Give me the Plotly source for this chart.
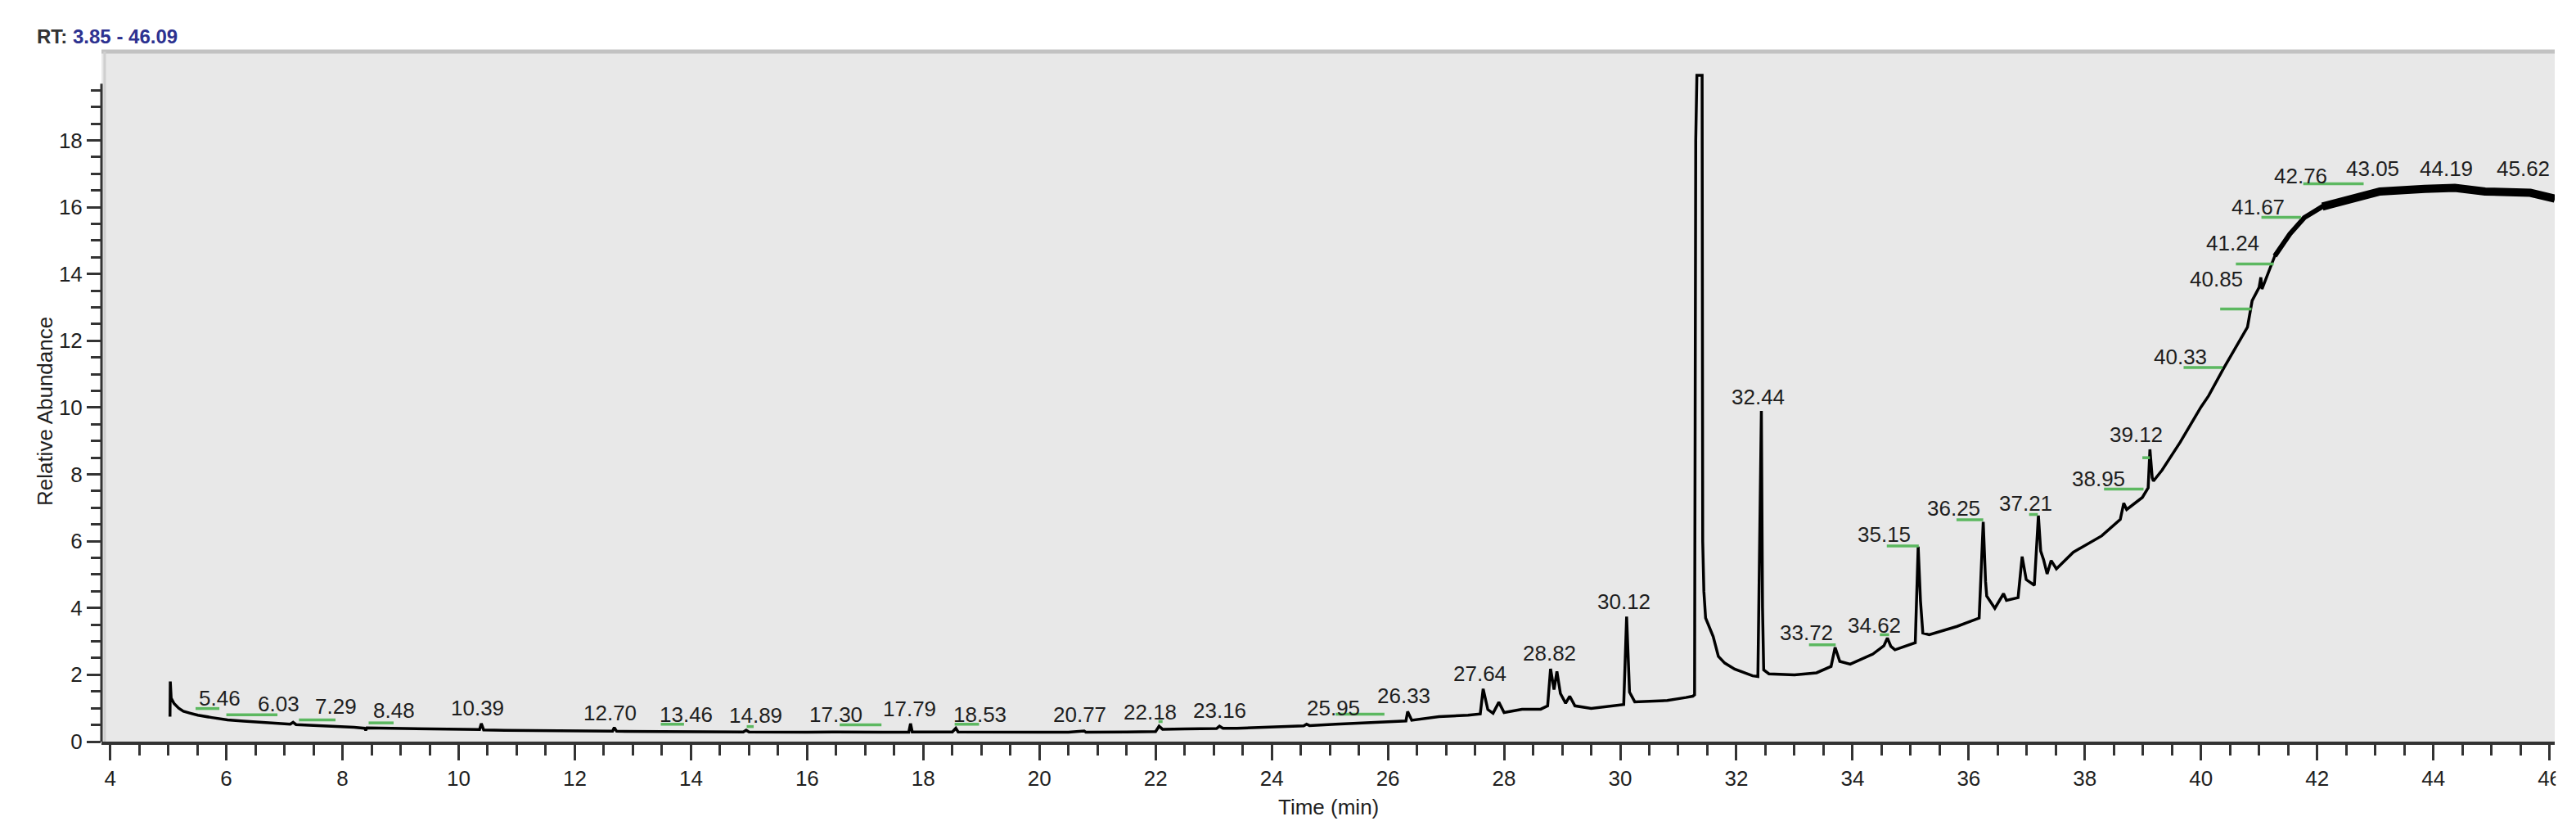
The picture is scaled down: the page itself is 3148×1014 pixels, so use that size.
import plotly.graph_objects as go

# Chromatogram trace (time in min, relative abundance)
time_min = [
    5.03, 5.035, 5.05, 5.10, 5.18, 5.26, 5.38, 5.51, 5.75, 6.02, 6.30, 6.65, 7.00, 7.10, 7.15,
    7.20, 7.50, 7.90, 8.20, 8.38, 8.40, 8.42, 8.80, 9.16, 9.60, 10.10, 10.36, 10.39, 10.43,
    10.80, 11.50, 12.10, 12.65, 12.68, 12.72, 13.50, 14.20, 14.90, 14.95, 15.00, 16.00, 16.50,
    17.30, 17.75, 17.78, 17.81, 18.50, 18.56, 18.60, 19.50, 20.50, 20.77, 20.80, 21.50, 22.00,
    22.06, 22.12, 22.50, 23.05, 23.10, 23.16, 23.40, 24.10, 24.55, 24.60, 24.65, 25.10, 25.50,
    26.06, 26.31, 26.34, 26.41, 26.88, 27.38, 27.59, 27.64, 27.72, 27.81, 27.91, 28.00, 28.31,
    28.63, 28.75, 28.80, 28.86, 28.91, 28.97, 29.06, 29.13, 29.22, 29.50, 29.88, 30.06, 30.11,
    30.16, 30.25, 30.81, 31.13, 31.25, 31.28, 31.30, 31.32, 31.41, 31.42, 31.44, 31.47, 31.56,
    31.60, 31.69, 31.80, 31.97, 32.13, 32.28, 32.37, 32.40, 32.43, 32.45, 32.47, 32.56, 33.00,
    33.38, 33.63, 33.70, 33.78, 33.96, 34.35, 34.54, 34.60, 34.66, 34.73, 35.08, 35.11, 35.13,
    35.17, 35.21, 35.32, 35.80, 36.18, 36.22, 36.25, 36.29, 36.31, 36.45, 36.55, 36.60, 36.65,
    36.85, 36.92, 36.99, 37.13, 37.17, 37.20, 37.24, 37.29, 37.35, 37.42, 37.51, 37.80, 38.29,
    38.61, 38.67, 38.72, 38.99, 39.09, 39.12, 39.16, 39.18, 39.33, 39.64, 40.00, 40.13, 40.39,
    40.80, 40.88, 41.00, 41.03, 41.05, 41.27, 41.53, 41.78, 42.09, 42.56, 43.08, 43.85, 44.37,
    44.89, 45.67, 46.09,
]
abundance = [
    0.75, 1.80, 1.30, 1.14, 1.00, 0.91, 0.85, 0.79, 0.72, 0.65, 0.61, 0.56, 0.53, 0.52, 0.58,
    0.51, 0.49, 0.46, 0.43, 0.40, 0.34, 0.41, 0.40, 0.39, 0.36, 0.35, 0.36, 0.54, 0.35,
    0.34, 0.33, 0.32, 0.31, 0.42, 0.31, 0.30, 0.30, 0.29, 0.34, 0.29, 0.28, 0.29,
    0.28, 0.28, 0.54, 0.29, 0.29, 0.40, 0.29, 0.28, 0.28, 0.32, 0.28, 0.29, 0.30,
    0.46, 0.37, 0.38, 0.39, 0.46, 0.40, 0.40, 0.43, 0.47, 0.52, 0.48, 0.52, 0.55,
    0.58, 0.62, 0.90, 0.64, 0.75, 0.79, 0.83, 1.58, 0.96, 0.85, 1.18, 0.87, 0.97,
    0.97, 1.07, 2.18, 1.56, 2.10, 1.44, 1.15, 1.36, 1.07, 0.99, 1.07, 1.11, 3.74,
    1.48, 1.19, 1.23, 1.32, 1.36, 1.40, 18.0, 19.95, 19.95, 6.0, 4.5, 3.7, 3.3,
    3.15, 2.55, 2.35, 2.17, 2.06, 1.97, 1.95, 6.0, 9.90, 4.0, 2.15, 2.03, 2.00,
    2.06, 2.25, 2.82, 2.40, 2.32, 2.62, 2.87, 3.10, 2.85, 2.75, 2.96, 4.5, 5.84,
    4.2, 3.25, 3.20, 3.45, 3.70, 5.5, 6.58, 4.8, 4.36, 3.99, 4.3, 4.43, 4.23,
    4.31, 5.54, 4.85, 4.68, 5.8, 6.77, 5.7, 5.44, 5.02, 5.42, 5.17, 5.67, 6.16,
    6.65, 7.14, 6.95, 7.31, 7.6, 8.75, 7.9, 7.8, 8.13, 8.96, 10.02, 10.35, 11.18,
    12.41, 13.20, 13.60, 13.90, 13.55, 14.54, 15.20, 15.69, 16.02, 16.26, 16.47, 16.55, 16.58,
    16.47, 16.43, 16.26,
]

# Peak labels as placed in the picture
label_text = [
    "5.46", "6.03", "7.29", "8.48", "10.39", "12.70", "13.46", "14.89", "17.30", "17.79",
    "18.53", "20.77", "22.18", "23.16", "25.95", "26.33", "27.64", "28.82", "30.12", "32.44",
    "33.72", "34.62", "35.15", "36.25", "37.21", "38.95", "39.12", "40.33", "40.85", "41.24",
    "41.67", "42.76", "43.05", "44.19", "45.62",
]
label_x = [
    5.88, 6.90, 7.88, 8.88, 10.33, 12.61, 13.92, 15.12, 16.50, 17.76,
    18.98, 20.70, 21.91, 23.11, 25.06, 26.28, 27.59, 28.78, 30.07, 32.38,
    33.20, 34.38, 34.55, 35.74, 36.98, 38.24, 38.89, 39.64, 40.26, 40.55,
    40.98, 41.72, 42.96, 44.23, 45.55,
]
label_y = [
    1.30, 1.13, 1.05, 0.93, 1.01, 0.86, 0.81, 0.78, 0.81, 0.97,
    0.81, 0.81, 0.89, 0.93, 1.01, 1.38, 2.03, 2.65, 4.20, 10.32,
    3.26, 3.48, 6.20, 6.99, 7.13, 7.87, 9.19, 11.52, 13.85, 14.93,
    16.00, 16.94, 17.16, 17.16, 17.16,
]

# Green baseline marks under the labels
seg_start = [5.47, 6.00, 7.25, 8.45, 13.48, 14.96, 16.56, 18.54, 22.05, 25.10, 33.25, 34.47,
             34.59, 35.79, 37.04, 38.33, 38.99, 39.70, 40.33, 40.60, 41.04, 41.76]
seg_end = [5.88, 6.88, 7.88, 8.88, 13.88, 15.08, 17.28, 18.96, 22.12, 25.94, 33.71, 34.63,
           35.14, 36.25, 37.19, 39.01, 39.12, 40.37, 40.87, 41.25, 41.72, 42.80]
seg_level = [0.99, 0.80, 0.65, 0.56, 0.52, 0.45, 0.50, 0.52, 0.60, 0.82, 2.90, 3.20,
             5.86, 6.64, 6.80, 7.56, 8.50, 11.20, 12.95, 14.30, 15.70, 16.70]

x_ticks = list(range(4, 47, 2))
y_ticks = list(range(0, 19, 2))
x_minor = [v / 2 for v in range(9, 92) if v % 4 != 0]
y_minor = [v / 2 for v in range(1, 40) if v % 4 != 0]

FONT = "Liberation Sans, Arial, sans-serif"
INK = "#1e1e1e"
AXIS = "#333333"

fig = go.Figure()

fig.add_trace(go.Scatter(
    x=time_min, y=abundance, mode="lines",
    line=dict(color="black", width=3.5), showlegend=False, hoverinfo="skip",
))

# the late part of the run is noisy in the original: draw it as thicker bands
for t_from, w in [(41.27, 6), (42.09, 10)]:
    idx = [i for i, t in enumerate(time_min) if t >= t_from]
    fig.add_trace(go.Scatter(
        x=[time_min[i] for i in idx], y=[abundance[i] for i in idx], mode="lines",
        line=dict(color="black", width=w), showlegend=False, hoverinfo="skip",
    ))

seg_x, seg_y = [], []
for t0, t1, a in zip(seg_start, seg_end, seg_level):
    seg_x += [t0, t1, None]
    seg_y += [a, a, None]
fig.add_trace(go.Scatter(
    x=seg_x, y=seg_y, mode="lines",
    line=dict(color="#5cb860", width=3.5), showlegend=False, hoverinfo="skip",
))

for txt, lx, ly in zip(label_text, label_x, label_y):
    fig.add_annotation(
        x=lx, y=ly, text=txt, showarrow=False,
        xanchor="center", yanchor="middle",
        font=dict(family=FONT, size=26, color=INK),
    )

# axis titles and run-time header
fig.add_annotation(
    x=0.5, y=-0.095, xref="paper", yref="paper", text="Time (min)",
    showarrow=False, xanchor="center", yanchor="middle",
    font=dict(family=FONT, size=26, color=INK),
)
fig.add_annotation(
    x=-0.023, y=0.478, xref="paper", yref="paper", text="Relative Abundance",
    showarrow=False, textangle=-90, xanchor="center", yanchor="middle",
    font=dict(family=FONT, size=26, color=INK),
)
fig.add_annotation(
    x=-0.027, y=1.0225, xref="paper", yref="paper",
    text="<b>RT: <span style='color:#2d3290'>3.85 - 46.09</span></b>",
    showarrow=False, xanchor="left", yanchor="middle",
    font=dict(family=FONT, size=24, color="#333333"),
)

# frame of the plot area
fig.add_shape(type="line", xref="paper", yref="paper", x0=0, x1=1, y0=1, y1=1,
              line=dict(color="#c2c2c2", width=5), layer="below")
fig.add_shape(type="line", xref="paper", yref="paper", x0=0.0013, x1=0.0013, y0=0, y1=1,
              line=dict(color="#cfcfcf", width=3), layer="below")
# y axis line stops just above the last minor tick
fig.add_shape(type="line", xref="paper", yref="y", x0=0, x1=0, y0=0, y1=19.7,
              line=dict(color=AXIS, width=3))
# picture is cropped just right of the plot area
fig.add_shape(type="rect", xref="paper", yref="paper", x0=1.0004, x1=1.02, y0=-0.2, y1=1.1,
              fillcolor="white", line=dict(width=0), layer="above")

fig.update_xaxes(
    range=[3.85, 46.09], tickmode="array", tickvals=x_ticks,
    ticks="outside", ticklen=19, tickwidth=3, tickcolor=AXIS,
    showline=True, linecolor=AXIS, linewidth=4,
    showgrid=False, zeroline=False,
    tickfont=dict(family=FONT, size=26, color=INK),
    minor=dict(tickmode="array", tickvals=x_minor, ticks="outside",
               ticklen=13, tickwidth=3, tickcolor=AXIS),
)
fig.update_yaxes(
    range=[0, 20.66], tickmode="array", tickvals=y_ticks,
    ticks="outside", ticklen=17, tickwidth=3, tickcolor=AXIS,
    showline=False, showgrid=False, zeroline=False,
    tickfont=dict(family=FONT, size=26, color=INK),
    minor=dict(tickmode="array", tickvals=y_minor, ticks="outside",
               ticklen=12, tickwidth=3, tickcolor=AXIS),
)

fig.update_layout(
    width=3148, height=1014,
    margin=dict(l=116, r=34, t=55, b=116),
    paper_bgcolor="white", plot_bgcolor="#e8e8e8",
    font=dict(family=FONT, color=INK),
)

fig.write_html("out.html")
